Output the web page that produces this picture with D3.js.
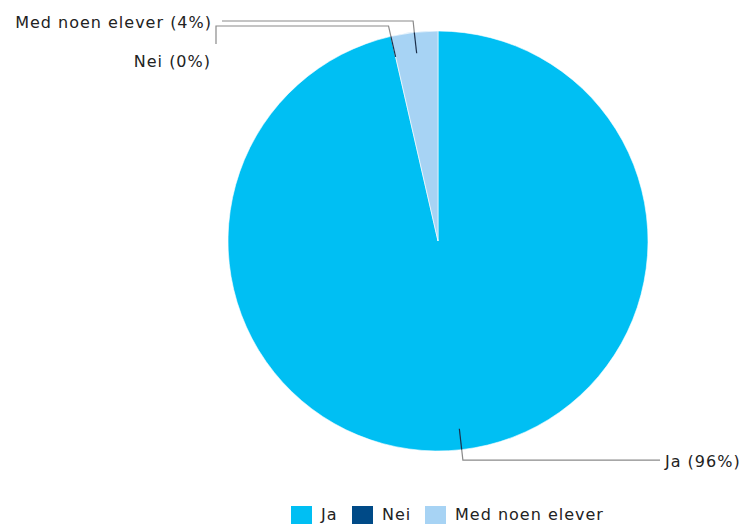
<!DOCTYPE html>
<html><head><meta charset="utf-8">
<script src="https://cdn.jsdelivr.net/npm/d3@7"></script>
<style>body{margin:0;background:#fff}svg{display:block;font-family:Verdana,"DejaVu Sans",sans-serif}</style>
</head><body><svg id="c" width="746" height="524"></svg>
<script>
const categories = ["Ja", "Nei", "Med noen elever"];
const values = [96.4, 0.0, 3.6];
const labels = ["Ja (96%)", "Nei (0%)", "Med noen elever (4%)"];
const colors = ["#00bff3", "#004a87", "#a7d3f4"];

const svg = d3.select("#c");
const cx = 438, cy = 241, R = 210;
const FS = 16, LS = 1.0;
const g = svg.append("g").attr("transform", `translate(${cx},${cy})`);
const pie = d3.pie().sort(null).value(d => d.v);
const data = categories.map((c, i) => ({c, v: values[i], i}));
const arcs = pie(data);
const arc = d3.arc().innerRadius(0).outerRadius(R);
g.selectAll("path.s").data(arcs).join("path").attr("class","s")
  .attr("d", arc).attr("fill", d => colors[d.data.i])
  .attr("stroke", "#fff").attr("stroke-width", d => d.data.v > 0 ? 0.6 : 0);

function pt(a, r){ return [r*Math.sin(a), -r*Math.cos(a)]; }
const layout = {
  0: {tx: 660 - cx, anchor: "start"},
  1: {hx: 216 - cx, hy: 26 - cy, dropTo: 44 - cy, tx: 211 - cx, ty: 67 - cy, anchor: "end"},
  2: {hx: 222 - cx, hy: 21 - cy, tx: 212 - cx, ty: 28 - cy, anchor: "end"}
};
arcs.forEach(a => {
  const i = a.data.i;
  const mid = i === 1 ? a.startAngle : (a.startAngle + a.endAngle) / 2;
  const p1 = pt(mid, R * 0.9), p2 = pt(mid, R), p3 = pt(mid, R * 1.05);
  const L = layout[i];
  let pts, tx, ty;
  if (i === 0) {
    pts = [p2, p3, [L.tx, p3[1]]];
    tx = L.tx + 5; ty = p3[1] + 7;
  } else if (i === 1) {
    pts = [p2, [p3[0], L.hy], [L.hx, L.hy], [L.hx, L.dropTo]];
    tx = L.tx; ty = L.ty;
  } else {
    pts = [p2, [p3[0], L.hy], [L.hx, L.hy]];
    tx = L.tx; ty = L.ty;
  }
  g.append("path").attr("d", d3.line()(pts)).attr("fill","none")
   .attr("stroke", "#8a8a8a").attr("stroke-width", 1.2);
  g.append("path").attr("d", d3.line()([p1, p2])).attr("fill","none")
   .attr("stroke", "#1c2f4a").attr("stroke-width", 1.2);
  g.append("text").attr("x", tx).attr("y", ty)
   .attr("text-anchor", L.anchor).attr("font-size", FS).attr("letter-spacing", LS).attr("fill", "#222")
   .text(labels[i]);
});

const leg = svg.append("g");
const lx = [291, 352, 425];
categories.forEach((c, i) => {
  leg.append("rect").attr("x", lx[i]).attr("y", 506).attr("width", 21).attr("height", 21).attr("fill", colors[i]);
  leg.append("text").attr("x", lx[i] + 30).attr("y", 520)
    .attr("font-size", FS).attr("letter-spacing", LS).attr("fill", "#222").text(c);
});
</script></body></html>
